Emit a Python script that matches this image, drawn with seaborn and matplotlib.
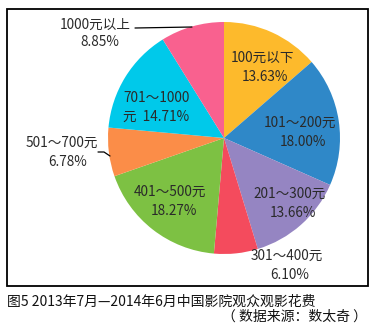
import matplotlib
matplotlib.use("Agg")
import matplotlib.pyplot as plt
from matplotlib.patches import Rectangle
import seaborn as sns

sns.set_style("white")
plt.rcParams['font.family'] = ['Noto Sans CJK SC', 'DejaVu Sans']

categories = ["100元以下", "101～200元", "201～300元", "301～400元",
              "401～500元", "501～700元", "701～1000\n元", "1000元以上"]
values = [13.63, 18.00, 13.66, 6.10, 18.27, 6.78, 14.71, 8.85]
pct_labels = ["13.63%", "18.00%", "13.66%", "6.10%", "18.27%", "6.78%", "14.71%", "8.85%"]
colors = ["#FDBA2C", "#2F88C8", "#9585C2", "#F44B5D", "#7DC143", "#FB8D48", "#00C9EA", "#F9618F"]

W, H = 379, 325
fig = plt.figure(figsize=(W / 100, H / 100), dpi=100)

# frame
fig.add_artist(Rectangle((7 / W, 1 - 286 / H), (368 - 7) / W, (286 - 9) / H,
                         transform=fig.transFigure, fill=False, edgecolor="black", lw=1.3))

cx, cy, r = 224, 138, 116
ax = fig.add_axes([(cx - r) / W, 1 - (cy + r) / H, 2 * r / W, 2 * r / H])
ax.pie(values, colors=colors, startangle=90, counterclock=False,
       wedgeprops=dict(linewidth=0))
ax.set_xlim(-1, 1)
ax.set_ylim(-1, 1)
ax.set_aspect("equal")
ax.axis("off")

fs = 9.8
def ptext(x, y, s, ha="center"):
    fig.text(x / W, 1 - y / H, s, ha=ha, va="center", fontsize=fs, color="#2a2a2a")

# label positions (pixels)
ptext(263, 58, categories[0]); ptext(265, 77, pct_labels[0])
ptext(300, 123, categories[1]); ptext(303, 142, pct_labels[1])
ptext(290, 194, categories[2]); ptext(293, 213, pct_labels[2])
ptext(287, 256, categories[3]); ptext(290, 275, pct_labels[3])
ptext(170, 192, categories[4]); ptext(174, 211, pct_labels[4])
ptext(62, 143, categories[5]); ptext(68, 162, pct_labels[5])
ptext(123, 98, "701～1000", ha="left"); ptext(123, 117, "元  " + pct_labels[6], ha="left")
ptext(95, 25, categories[7]); ptext(100, 42, pct_labels[7])

# leader lines
def pline(xs, ys):
    fig.add_artist(plt.Line2D([x / W for x in xs], [1 - y / H for y in ys],
                              transform=fig.transFigure, color="black", lw=0.9))
pline([135, 192], [28, 27])
pline([98, 104, 110], [152, 152, 156])

fig.text(7 / W, 1 - 302 / H, "图5 2013年7月—2014年6月中国影院观众观影花费",
         ha="left", va="center", fontsize=10, color="#111111")
fig.text(367 / W, 1 - 317 / H, "（ 数据来源：数太奇 ）",
         ha="right", va="center", fontsize=10, color="#111111")

fig.savefig("out.png", dpi=100)
